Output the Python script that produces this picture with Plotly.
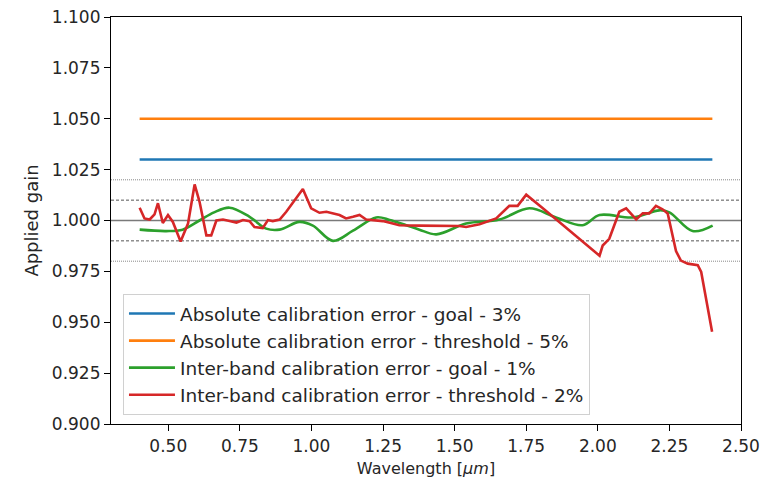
import plotly.graph_objects as go

# Requirement levels (constant gain across the band)
req_wavelength = [0.4, 2.4]
abs_goal = [1.03, 1.03]
abs_threshold = [1.05, 1.05]

# Inter-band calibration error, goal (1%)
goal_wl = [0.40, 0.493, 0.55, 0.609, 0.66, 0.714, 0.784, 0.842, 0.889, 0.958,
           1.005, 1.075, 1.145, 1.226, 1.273, 1.331, 1.377, 1.436, 1.540, 1.657,
           1.761, 1.854, 1.947, 2.006, 2.122, 2.215, 2.250, 2.331, 2.401]
goal_gain = [0.9955, 0.9948, 0.9955, 1.0000, 1.0040, 1.0063, 1.0018, 0.9960, 0.9955, 0.9993,
             0.9975, 0.9900, 0.9950, 1.0015, 1.0003, 0.9977, 0.9955, 0.9932, 0.9985, 1.0005,
             1.0060, 1.0015, 0.9977, 1.0027, 1.0015, 1.0050, 1.0040, 0.9948, 0.9975]

# Inter-band calibration error, threshold (2%)
thr_wl = [0.400, 0.417, 0.435, 0.452, 0.464, 0.481, 0.499, 0.516, 0.543, 0.569,
          0.592, 0.609, 0.633, 0.650, 0.668, 0.691, 0.714, 0.738, 0.761, 0.784,
          0.801, 0.830, 0.848, 0.865, 0.889, 0.912, 0.970, 0.999, 1.028, 1.052,
          1.098, 1.121, 1.145, 1.168, 1.191, 1.249, 1.284, 1.307, 1.377, 1.517,
          1.540, 1.587, 1.645, 1.691, 1.720, 1.750, 1.808, 2.006, 2.017, 2.040,
          2.075, 2.099, 2.134, 2.157, 2.180, 2.203, 2.226, 2.244, 2.273, 2.290,
          2.314, 2.349, 2.361, 2.378, 2.399]
thr_gain = [1.0063, 1.0010, 1.0005, 1.0030, 1.0085, 0.9988, 1.0027, 0.9993, 0.9897, 0.9985,
            1.0177, 1.0093, 0.9927, 0.9927, 1.0000, 1.0005, 0.9998, 0.9990, 1.0002, 0.9997,
            0.9968, 0.9963, 1.0002, 0.9997, 1.0005, 1.0043, 1.0155, 1.0060, 1.0038, 1.0043,
            1.0027, 1.0010, 1.0018, 1.0027, 1.0005, 0.9997, 0.9985, 0.9977, 0.9975, 0.9973,
            0.9968, 0.9982, 1.0010, 1.0072, 1.0072, 1.0127, 1.0060, 0.9827, 0.9877, 0.9910,
            1.0043, 1.0060, 1.0005, 1.0035, 1.0035, 1.0072, 1.0055, 1.0035, 0.9850, 0.9803,
            0.9788, 0.9780, 0.9747, 0.9608, 0.9453]

# Reference gain levels
unity_level = [1.0]
goal_band = [1.01, 0.99]
threshold_band = [1.02, 0.98]

x_ticks = [0.50, 0.75, 1.00, 1.25, 1.50, 1.75, 2.00, 2.25, 2.50]
y_ticks = [0.900, 0.925, 0.950, 0.975, 1.000, 1.025, 1.050, 1.075, 1.100]

FONT = "DejaVu Sans"
TXT = "#262626"

fig = go.Figure()

fig.add_trace(go.Scatter(x=req_wavelength, y=abs_goal, mode="lines",
                         line=dict(color="#1f77b4", width=2.6),
                         name="Absolute calibration error - goal - 3%"))
fig.add_trace(go.Scatter(x=req_wavelength, y=abs_threshold, mode="lines",
                         line=dict(color="#ff7f0e", width=2.6),
                         name="Absolute calibration error - threshold - 5%"))
fig.add_trace(go.Scatter(x=goal_wl, y=goal_gain, mode="lines",
                         line=dict(color="#2ca02c", width=2.6, shape="spline", smoothing=1.0),
                         name="Inter-band calibration error - goal - 1%"))
fig.add_trace(go.Scatter(x=thr_wl, y=thr_gain, mode="lines",
                         line=dict(color="#d62728", width=2.6),
                         name="Inter-band calibration error - threshold - 2%"))

for v in unity_level:
    fig.add_hline(y=v, line=dict(color="#7a7a7a", width=1.3), layer="below")
for v in goal_band:
    fig.add_hline(y=v, line=dict(color="#555555", width=1, dash="3px,2px"), layer="below")
for v in threshold_band:
    fig.add_hline(y=v, line=dict(color="#888888", width=1, dash="1px,1px"), layer="below")

axis_common = dict(showline=True, linecolor="black", linewidth=1.2, mirror=True,
                   ticks="outside", ticklen=6, tickwidth=1.2, tickcolor="black",
                   showgrid=False, zeroline=False, automargin=False,
                   tickfont=dict(family=FONT, size=17, color=TXT))

fig.update_xaxes(range=[0.3, 2.5], tickvals=x_ticks,
                 ticktext=[f"{t:.2f}" for t in x_ticks],
                 title=dict(text="Wavelength [<i>μm</i>]",
                            font=dict(family=FONT, size=16, color=TXT), standoff=8),
                 **axis_common)
fig.update_yaxes(range=[0.9, 1.1], tickvals=y_ticks,
                 ticktext=[f"{t:.3f}" for t in y_ticks],
                 title=dict(text="Applied gain",
                            font=dict(family=FONT, size=18, color=TXT), standoff=8),
                 **axis_common)

fig.update_layout(
    width=761, height=482,
    margin=dict(l=111, r=20, t=17, b=58),
    paper_bgcolor="white", plot_bgcolor="white",
    showlegend=True,
    legend=dict(x=0.019, y=0.022, xanchor="left", yanchor="bottom",
                bgcolor="rgba(255,255,255,0.9)", bordercolor="#d0d0d0", borderwidth=1,
                font=dict(family=FONT, size=18.5, color=TXT),
                tracegroupgap=0, itemwidth=46),
)

fig.write_html("out.html")
